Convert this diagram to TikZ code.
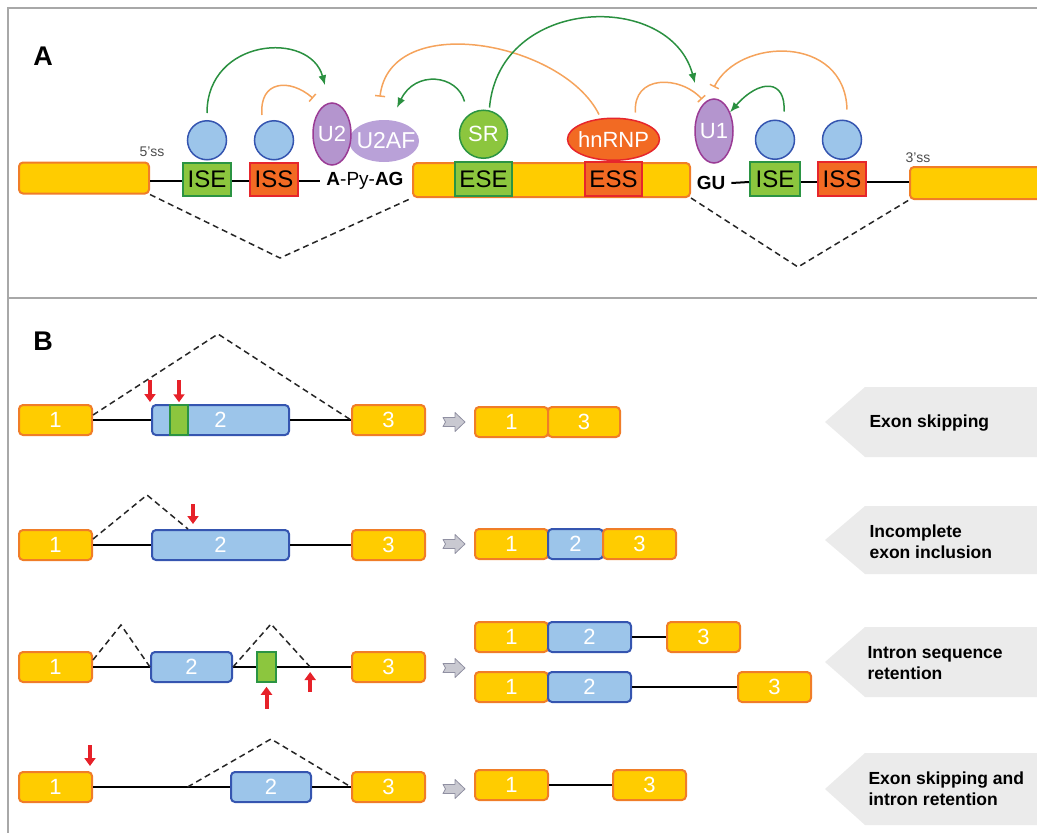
\documentclass[tikz,border=0pt]{standalone}
\usepackage{fontspec}
\setmainfont{Liberation Sans}
\usetikzlibrary{shapes, arrows, calc, arrows.meta, positioning}

\definecolor{exonfill}{HTML}{FFCC00}
\definecolor{exonline}{HTML}{F07D28}
\definecolor{isefill}{HTML}{8CC63E}
\definecolor{iseline}{HTML}{2B9443}
\definecolor{issfill}{HTML}{F26A23}
\definecolor{issline}{HTML}{E6262C}
\definecolor{bluefill}{HTML}{9CC5EA}
\definecolor{blueline}{HTML}{3555B0}
\definecolor{snfill}{HTML}{B495CE}
\definecolor{snline}{HTML}{9A3B95}
\definecolor{u2affill}{HTML}{B9A1D8}
\definecolor{greenarr}{HTML}{2A9040}
\definecolor{orangearr}{HTML}{F5A35C}
\definecolor{redarr}{HTML}{E62129}
\definecolor{greyfill}{HTML}{C9C9D1}
\definecolor{greyline}{HTML}{9090A2}
\definecolor{eventfill}{HTML}{EBEBEB}
\definecolor{framegrey}{HTML}{A8A8A8}

\begin{document}
\begin{tikzpicture}[x=1pt, y=-1pt,
    exon/.style={draw=exonline, fill=exonfill, line width=2pt, rounded corners=4pt,
        inner sep=0pt, text=white, font=\fontsize{22}{22}\selectfont, minimum height=30pt},
    mid exon/.style={exon, draw=blueline, fill=bluefill},
    element/.style={draw, line width=2pt, inner sep=0pt, minimum height=33pt,
        font=\fontsize{24}{24}\selectfont},
    ise/.style={element, draw=iseline, fill=isefill},
    iss/.style={element, draw=issline, fill=issfill},
    enhancer/.style={draw=iseline, fill=isefill, line width=1.5pt, inner sep=0pt, minimum height=30pt},
    factor/.style={circle, draw=blueline, fill=bluefill, line width=1.5pt, minimum size=39pt, inner sep=0pt},
    snrnp/.style={ellipse, draw=snline, fill=snfill, line width=1.5pt, inner sep=0pt,
        text=white, font=\fontsize{22}{22}\selectfont},
    intron/.style={line width=2pt},
    splice/.style={draw=black!85, line width=1.5pt, dash pattern=on 6pt off 4pt},
    activate/.style={draw=greenarr, line width=1.5pt, -{Latex[length=10pt,width=8pt]}},
    repress/.style={draw=orangearr, line width=1.5pt, -{Bar[width=10pt]}},
    mutation/.style={draw=redarr, line width=4pt, -{Triangle[length=8pt,width=11pt]}},
    gives/.style={draw=greyline, fill=greyfill, line width=0.8pt, line join=round},
    event/.style={fill=eventfill},
    event text/.style={anchor=west, align=left, font=\bfseries\fontsize{17.5}{21}\selectfont},
    panel/.style={draw=framegrey, line width=1.5pt}]

\useasboundingbox (0,0) rectangle (1037,833);
\draw[panel] (8,833) -- (8,8) -- (1037,8);
\draw[panel] (8,298) -- (1037,298);

% panel A
\node[font=\bfseries\fontsize{27}{27}\selectfont] (lblA) at (43,56) {A};
\node[exon, minimum width=130pt, minimum height=31pt] (a1) at (84,178) {};
\node[ise, minimum width=48pt] (ise1) at (207,179) {ISE};
\node[factor, above=1pt of ise1] (p1) {};
\node[iss, minimum width=48pt] (iss1) at (274,179) {ISS};
\node[factor, above=1pt of iss1] (p2) {};
\node[font=\fontsize{19}{19}\selectfont, inner sep=6pt] (bp) at (365,181) {\textbf{A}-Py-\textbf{AG}};
\node[ellipse, fill=u2affill, minimum width=70pt, minimum height=42pt, inner sep=0pt,
    text=white, font=\fontsize{23}{23}\selectfont] (u2af) at (384,141) {\makebox[0pt]{\,U2AF}};
\node[snrnp, minimum width=38pt, minimum height=62pt] (u2) at (332,134) {\makebox[0pt]{U2}};
\node[exon, minimum width=277pt, minimum height=34pt] (a2) at (551.5,180) {};
\node[ise, minimum width=57pt, minimum height=34pt] (ese) at (483.5,179) {ESE};
\node[circle, draw=iseline, fill=isefill, line width=1.5pt, minimum size=48pt, inner sep=0pt,
    text=white, font=\fontsize{22}{22}\selectfont, above=2pt of ese] (sr) {SR};
\node[iss, minimum width=57pt, minimum height=34pt] (ess) at (613.5,179) {ESS};
\node[ellipse, draw=issline, fill=issfill, line width=1.5pt, minimum width=92pt, minimum height=42pt,
    inner sep=0pt, text=white, font=\fontsize{22}{22}\selectfont, above=0pt of ess] (hnrnp) {\makebox[0pt]{hnRNP}};
\node[snrnp, minimum width=38pt, minimum height=64pt] (u1) at (714,131) {\makebox[0pt]{U1}};
\node[font=\bfseries\fontsize{19}{19}\selectfont, inner sep=6pt] (gu) at (711,183) {GU};
\node[ise, minimum width=50pt, minimum height=34pt] (ise2) at (775,179) {ISE};
\node[factor, above=1pt of ise2] (p3) {};
\node[iss, minimum width=48pt, minimum height=34pt] (iss2) at (842,179) {ISS};
\node[factor, above=1pt of iss2] (p4) {};
\node[exon, minimum width=160pt, minimum height=32pt, anchor=west] (a3) at (909,183) {};
\node[text=black!70, font=\fontsize{14}{14}\selectfont] (ss5) at (152,152) {5'ss};
\node[text=black!70, font=\fontsize{14}{14}\selectfont] (ss3) at (918,158) {3'ss};

\draw[intron] ([yshift=-3pt]a1.east) -- ([yshift=-2pt]ise1.west);
\draw[intron] ([yshift=-2pt]ise1.east) -- ([yshift=-2pt]iss1.west);
\draw[intron] ([yshift=-2pt]iss1.east) -- (bp.west);
\draw[intron] (gu.east) -- ([yshift=-3pt]ise2.west);
\draw[intron] ([yshift=-3pt]ise2.east) -- ([yshift=-3pt]iss2.west);
\draw[intron] ([yshift=-3pt]iss2.east) -- ([yshift=1pt]a3.west);

\coordinate (v1) at (280,258);
\coordinate (v2) at (798,267);
\draw[splice] (a1.south east) -- (v1) -- (a2.south west);
\draw[splice] (a2.south east) -- (v2) -- (a3.south west);

\draw[activate] ([yshift=7pt]p1.north) .. controls +(0,-75) and +(-15,-55) .. ([xshift=-7pt,yshift=17pt]u2.north);
\draw[repress] ([xshift=-12pt,yshift=5pt]p2.north) .. controls +(-3,-35) and +(-23,-20) .. ([xshift=-19pt,yshift=4pt]u2.north);
\draw[repress] ([yshift=4pt]hnrnp.125) .. controls +(-36,-73) and +(10,-87) .. ([xshift=-4pt,yshift=23pt]u2af.north);
\draw[activate] ([xshift=-19pt,yshift=8pt]sr.north) .. controls +(-7,-27) and +(18,-38) .. ([xshift=13pt,yshift=12pt]u2af.north);
\draw[activate] ([xshift=6pt,yshift=2pt]sr.north) .. controls +(10,-112) and +(-25,-93) .. ([xshift=-19pt,yshift=15pt]u1.north);
\draw[repress] ([xshift=22pt,yshift=5pt]hnrnp.north) .. controls +(-3,-38) and +(-22,-24) .. ([xshift=-12pt,yshift=-1pt]u1.north);
\draw[activate] ([xshift=9pt,yshift=8pt]p3.north) .. controls +(2,-32) and +(30,-34) .. ([xshift=16pt,yshift=-14pt]u1.north);
\draw[repress] ([xshift=5pt,yshift=10pt]p4.north) .. controls +(-2,-75) and +(25,-50) .. ([yshift=11pt]u1.north);

% panel B
\node[font=\bfseries\fontsize{27}{27}\selectfont] (lblB) at (43,341) {B};
\foreach \y/\h in {422/35, 540/34, 662/35, 789/36}
    \fill[event] (825,\y) -- ++(40,-\h) -- ++(180,0) -- ++(0,2*\h) -- ++(-180,0) -- cycle;
\coordinate (g1) at (443,422);
\coordinate (g2) at (443,544);
\coordinate (g3) at (443,668);
\coordinate (g4) at (443,789);
\foreach \g in {g1,g2,g3,g4}
    \draw[gives] (\g) ++(0,-4.5) -- ++(12,0) -- ++(0,-5) -- ++(10,9.5) -- ++(-10,9.5)
        -- ++(0,-5) -- ++(-12,0) -- ++(2.5,-4.5) -- cycle;

% exon skipping
\node[exon, minimum width=73pt] (b1e1) at (55.5,420) {1};
\node[mid exon, minimum width=137pt] (b1e2) at (220.5,420) {2};
\node[enhancer, minimum width=18pt] (b1m) at (179,420) {};
\node[exon, minimum width=73pt] (b1e3) at (388.5,420) {3};
\draw[intron] (b1e1.east) -- (b1e2.west);
\draw[intron] (b1e2.east) -- (b1e3.west);
\coordinate (t1) at (218,334);
\draw[splice] ([yshift=5pt]b1e1.east) -- (t1) -- (b1e3.west);
\draw[mutation] ([xshift=-1pt,yshift=24pt]b1e2.north west) -- ([xshift=-1pt,yshift=2pt]b1e2.north west);
\draw[mutation] ([yshift=24pt]b1m.north) -- ([yshift=2pt]b1m.north);
\node[exon, minimum width=73pt] (r1e1) at (511.5,422) {1};
\node[exon, minimum width=72pt, right=-2pt of r1e1] (r1e3) {3};
\node[event text] (ev1) at (866,423) {Exon skipping};

% incomplete exon inclusion
\node[exon, minimum width=73pt] (b2e1) at (55.5,545) {1};
\node[mid exon, minimum width=137pt] (b2e2) at (220.5,545) {2};
\node[exon, minimum width=73pt] (b2e3) at (388.5,545) {3};
\draw[intron] (b2e1.east) -- (b2e2.west);
\draw[intron] (b2e2.east) -- (b2e3.west);
\coordinate (t2) at (147,495);
\draw[splice] ([yshift=6pt]b2e1.east) -- (t2) -- ([xshift=37pt]b2e2.north west);
\draw[mutation] ([xshift=42pt,yshift=25pt]b2e2.north west) -- ([xshift=42pt,yshift=5pt]b2e2.north west);
\node[exon, minimum width=73pt] (r2e1) at (511.5,544) {1};
\node[mid exon, minimum width=55pt, right=-2pt of r2e1] (r2e2) {2};
\node[exon, minimum width=73pt, right=-2pt of r2e2] (r2e3) {3};
\node[event text] (ev2) at (866,542) {Incomplete\\exon inclusion};

% intron sequence retention
\node[exon, minimum width=73pt] (b3e1) at (55.5,667) {1};
\node[mid exon, minimum width=81pt] (b3e2) at (191.5,667) {2};
\node[enhancer, minimum width=19pt] (b3m) at (266.5,667) {};
\node[exon, minimum width=73pt] (b3e3) at (388.5,667) {3};
\draw[intron] (b3e1.east) -- (b3e2.west);
\draw[intron] (b3e2.east) -- (b3m.west);
\draw[intron] (b3m.east) -- (b3e3.west);
\coordinate (t3) at (121,625);
\coordinate (t4) at (271,624);
\coordinate (c4) at ($(b3m.east)!0.45!(b3e3.west)$);
\draw[splice] ([yshift=7pt]b3e1.east) -- (t3) -- (b3e2.west);
\draw[splice] (b3e2.east) -- (t4) -- (c4);
\draw[mutation] ([yshift=-26pt]b3m.south) -- ([yshift=-4pt]b3m.south);
\draw[mutation] ([yshift=-25pt]c4) -- ([yshift=-5pt]c4);
\node[exon, minimum width=73pt] (r3e1) at (511.5,637) {1};
\node[mid exon, minimum width=83pt, right=-2pt of r3e1] (r3e2) {2};
\node[exon, minimum width=73pt] (r3e3) at (703.5,637) {3};
\draw[intron] (r3e2.east) -- (r3e3.west);
\node[exon, minimum width=73pt] (r3f1) at (511.5,687) {1};
\node[mid exon, minimum width=83pt, right=-2pt of r3f1] (r3f2) {2};
\node[exon, minimum width=73pt] (r3f3) at (774.5,687) {3};
\draw[intron] (r3f2.east) -- (r3f3.west);
\node[event text] (ev3) at (864,663) {Intron sequence\\retention};

% exon skipping and intron retention
\node[exon, minimum width=73pt] (b4e1) at (55.5,787) {1};
\node[mid exon, minimum width=80pt] (b4e2) at (271,787) {2};
\node[exon, minimum width=73pt] (b4e3) at (388.5,787) {3};
\draw[intron] (b4e1.east) -- (b4e2.west);
\draw[intron] (b4e2.east) -- (b4e3.west);
\coordinate (t5) at (271,739);
\coordinate (c5) at ($(b4e1.east)!0.69!(b4e2.west)$);
\draw[splice] (c5) -- (t5) -- (b4e3.west);
\draw[mutation] ([xshift=-3pt,yshift=26pt]b4e1.north east) -- ([xshift=-3pt,yshift=5pt]b4e1.north east);
\node[exon, minimum width=73pt] (r4e1) at (511.5,785) {1};
\node[exon, minimum width=73pt] (r4e3) at (649.5,785) {3};
\draw[intron] (r4e1.east) -- (r4e3.west);
\node[event text] (ev4) at (865,789) {Exon skipping and\\intron retention};
\end{tikzpicture}
\end{document}
